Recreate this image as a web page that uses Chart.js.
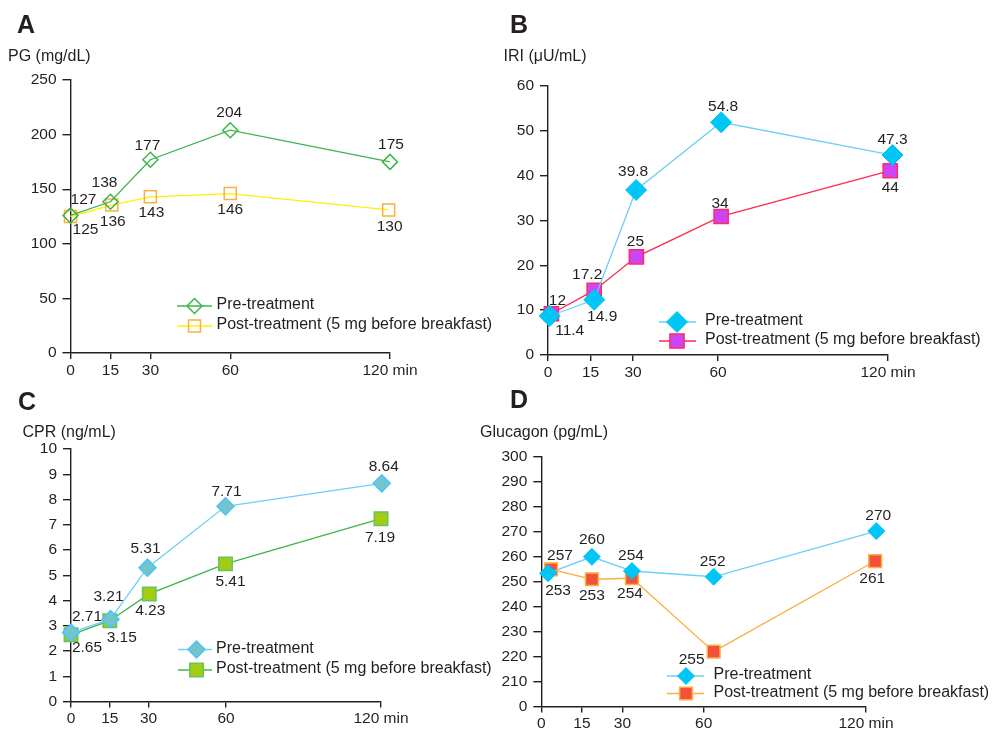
<!DOCTYPE html>
<html>
<head>
<meta charset="utf-8">
<script src="https://cdn.jsdelivr.net/npm/chart.js@4.4.1/dist/chart.umd.min.js"></script>
<style>
  body { margin: 0; background: #fff; width: 994px; height: 729px; position: relative; overflow: hidden; }
  canvas { position: absolute; }
</style>
</head>
<body>
<canvas id="pg" style="left:0;top:0" width="497" height="380"></canvas>
<canvas id="iri" style="left:497px;top:0" width="497" height="380"></canvas>
<canvas id="cpr" style="left:0;top:380px" width="497" height="349"></canvas>
<canvas id="glu" style="left:470px;top:380px" width="524" height="349"></canvas>
<script>
const FONT = "'Liberation Sans', Arial, Helvetica, sans-serif";
const INK = '#231f20';

const seriesNames = ['Pre-treatment', 'Post-treatment (5 mg before breakfast)'];
const timeTicks = [0, 15, 30, 60, 120];

// A - PG (mg/dL)
const pgPreX = [0, 15, 30, 60, 120];
const pgPre = [126, 138.5, 177, 204, 175];
const pgPostX = [0, 15.5, 30, 60, 119.5];
const pgPost = [125, 135.5, 143, 146, 131];
const pgPreText = ['127', '138', '177', '204', '175'];
const pgPostText = ['125', '136', '143', '146', '130'];

// B - IRI (uU/mL)
const iriPreX = [0.6, 16.3, 31.1, 61.1, 121.6];
const iriPre = [8.7, 12.3, 36.8, 51.9, 44.6];
const iriPostX = [1.2, 16.3, 31.2, 61.1, 120.8];
const iriPost = [9.2, 14.4, 21.9, 30.9, 41.1];
const iriPreText = ['11.4', '14.9', '39.8', '54.8', '47.3'];
const iriPostText = ['12', '17.2', '25', '34', '44'];

// C - CPR (ng/mL)
const cprPreX = [0, 15.3, 29.6, 59.8, 120.3];
const cprPre = [2.73, 3.26, 5.3, 7.73, 8.64];
const cprPostX = [0, 15, 30.3, 59.8, 120];
const cprPost = [2.64, 3.2, 4.26, 5.45, 7.24];
const cprPreText = ['2.71', '3.21', '5.31', '7.71', '8.64'];
const cprPostText = ['2.65', '3.15', '4.23', '5.41', '7.19'];

// D - Glucagon (pg/mL), axis broken below 210
const gluPreX = [2.5, 18.7, 33.5, 63.7, 123.8];
const gluPre = [253.4, 260, 254.3, 252, 270.3];
const gluPostX = [3.6, 18.7, 33.5, 63.7, 123.4];
const gluPost = [255, 251, 251.4, 222, 258.3];
const gluPreText = ['253', '260', '254', '252', '270'];
const gluPostText = ['257', '253', '254', '255', '261'];

function pts(xs, ys) {
  return xs.map((x, i) => ({ x: x, y: ys[i] }));
}

function marker(ctx, kind, x, y, r) {
  ctx.beginPath();
  if (kind === 'rectRot') {
    ctx.moveTo(x - r, y); ctx.lineTo(x, y - r); ctx.lineTo(x + r, y); ctx.lineTo(x, y + r);
  } else {
    const h = r * Math.SQRT1_2;
    ctx.rect(x - h, y - h, 2 * h, 2 * h);
  }
  ctx.closePath();
}

// panel letter, unit title, value labels and legend
const decor = {
  id: 'panelDecor',
  beforeDatasetsDraw(chart) {
    // points sitting just past the 120 min tick still have to be drawn
    const a = chart.chartArea;
    chart._realArea = a;
    chart.chartArea = Object.assign({}, a, { left: a.left - 30, right: a.right + 30, top: a.top - 30, bottom: a.bottom + 30 });
  },
  afterDatasetsDraw(chart, args, o) {
    if (chart._realArea) chart.chartArea = chart._realArea;
    const ctx = chart.ctx;
    ctx.save();
    ctx.fillStyle = INK;
    ctx.textAlign = 'left';
    ctx.textBaseline = 'alphabetic';
    ctx.font = 'bold 25px ' + FONT;
    ctx.fillText(o.letter, o.letterAt[0], o.letterAt[1]);
    ctx.font = '16px ' + FONT;
    ctx.fillText(o.title, o.titleAt[0], o.titleAt[1]);

    ctx.font = '15.5px ' + FONT;
    ctx.textAlign = 'center';
    ctx.textBaseline = 'middle';
    chart.data.datasets.forEach((ds, i) => {
      chart.getDatasetMeta(i).data.forEach((pt, j) => {
        const off = o.offsets[i][j];
        ctx.fillText(o.texts[i][j], pt.x + off[0], pt.y + off[1]);
      });
    });

    const lg = o.legend;
    chart.data.datasets.forEach((ds, i) => {
      const y = lg.y[i];
      ctx.strokeStyle = ds.borderColor;
      ctx.lineWidth = 1.5;
      ctx.beginPath();
      ctx.moveTo(lg.x0, y); ctx.lineTo(lg.x1, y);
      ctx.stroke();
      marker(ctx, ds.pointStyle, lg.mx, y, ds.pointRadius);
      ctx.fillStyle = ds.pointBackgroundColor;
      ctx.fill();
      ctx.lineWidth = ds.pointBorderWidth;
      ctx.strokeStyle = ds.pointBorderColor;
      ctx.stroke();
      ctx.fillStyle = INK;
      ctx.font = '16px ' + FONT;
      ctx.textAlign = 'left';
      ctx.textBaseline = 'middle';
      ctx.fillText(ds.label, lg.tx, y - 1);
    });
    ctx.restore();
  }
};

function makePanel(id, p) {
  const axisGrid = { display: true, drawOnChartArea: false, drawTicks: true, color: INK, lineWidth: 1.4 };
  return new Chart(document.getElementById(id), {
    type: 'line',
    data: {
      datasets: p.series.map((s, i) => ({
        label: seriesNames[i],
        data: s.data,
        borderColor: s.line,
        borderWidth: 1.3,
        tension: 0,
        fill: false,
        clip: false,
        pointStyle: s.shape,
        pointRadius: s.r,
        pointBackgroundColor: s.fill,
        pointBorderColor: s.edge,
        pointBorderWidth: s.edgeW
      }))
    },
    options: {
      responsive: false,
      animation: false,
      devicePixelRatio: 1,
      layout: { padding: p.pad },
      plugins: { legend: { display: false }, tooltip: { enabled: false }, panelDecor: p.decor },
      scales: {
        x: {
          type: 'linear', min: 0, max: 120,
          afterBuildTicks: s => { s.ticks = timeTicks.map(v => ({ value: v })); },
          afterFit: s => { s.height = p.xH; },
          grid: Object.assign({}, axisGrid, { tickLength: 6 }),
          border: { display: true, color: INK, width: 1.4 },
          ticks: {
            color: INK, padding: 2, autoSkip: false, maxRotation: 0,
            font: { family: FONT, size: 15.5 },
            callback: v => (v === 120 ? '120 min' : v)
          }
        },
        y: {
          type: 'linear', min: p.yMin, max: p.yMax,
          afterFit: s => { s.width = p.yW; },
          grid: Object.assign({}, axisGrid, { tickLength: 8 }),
          border: { display: true, color: INK, width: 1.4 },
          ticks: {
            color: INK, padding: 6, stepSize: p.yStep,
            font: { family: FONT, size: 15.5 },
            callback: p.yLabel || (v => v)
          }
        }
      }
    },
    plugins: [decor]
  });
}

makePanel('pg', {
  pad: { left: 0, top: 80, right: 107, bottom: 0 }, yW: 70.5, xH: 27,
  yMin: 0, yMax: 250, yStep: 50,
  series: [
    { data: pts(pgPreX, pgPre), line: '#3cb54a', shape: 'rectRot', r: 7.5, fill: 'rgba(255,255,255,0)', edge: '#3cb54a', edgeW: 1.5 },
    { data: pts(pgPostX, pgPost), line: '#fff200', shape: 'rect', r: 8.5, fill: 'rgba(255,255,255,0)', edge: '#fbb040', edgeW: 1.5 }
  ],
  decor: {
    letter: 'A', letterAt: [17, 33], title: 'PG (mg/dL)', titleAt: [8, 61],
    texts: [pgPreText, pgPostText],
    offsets: [
      [[13, -16], [-6, -19], [-3, -14], [-1, -18], [1, -17]],
      [[15, 13], [1, 17], [1, 16], [0, 16], [1, 17]]
    ],
    legend: { x0: 177, x1: 212, mx: 194.5, tx: 216.5, y: [306, 326] }
  }
});

makePanel('iri', {
  pad: { left: 0, top: 86, right: 106, bottom: 0 }, yW: 51, xH: 25,
  yMin: 0, yMax: 60, yStep: 10,
  series: [
    { data: pts(iriPreX, iriPre), line: '#6dcff6', shape: 'rectRot', r: 10.5, fill: '#00c6f5', edge: '#00c6f5', edgeW: 1 },
    { data: pts(iriPostX, iriPost), line: '#ff2a4f', shape: 'rect', r: 10, fill: '#cc44f5', edge: '#ff2a60', edgeW: 1.5 }
  ],
  decor: {
    letter: 'B', letterAt: [13, 33], title: 'IRI (\u03bcU/mL)', titleAt: [6.5, 61],
    texts: [iriPreText, iriPostText],
    offsets: [
      [[20, 15], [8, 17], [-3, -18], [2, -16], [0, -15]],
      [[6, -13], [-7, -16], [-1, -15], [-1, -13], [0, 17]]
    ],
    legend: { x0: 162, x1: 199, mx: 180, tx: 208, y: [322, 341] }
  }
});

makePanel('cpr', {
  pad: { left: 0, top: 69, right: 116, bottom: 0 }, yW: 71, xH: 27.5,
  yMin: 0, yMax: 10, yStep: 1,
  series: [
    { data: pts(cprPreX, cprPre), line: '#6dcff6', shape: 'rectRot', r: 8.5, fill: '#72c5cc', edge: '#4fc3f7', edgeW: 1.5 },
    { data: pts(cprPostX, cprPost), line: '#3cb54a', shape: 'rect', r: 9.5, fill: '#a4cc12', edge: '#62c462', edgeW: 1.5 }
  ],
  decor: {
    letter: 'C', letterAt: [18, 30], title: 'CPR (ng/mL)', titleAt: [22.5, 57],
    texts: [cprPreText, cprPostText],
    offsets: [
      [[16, -16], [-2, -22], [-2, -19], [1, -15], [2, -17]],
      [[16, 13], [12, 17], [1, 17], [5, 18], [-1, 19]]
    ],
    legend: { x0: 178, x1: 212, mx: 196.5, tx: 216, y: [269.5, 290] }
  }
});

makePanel('glu', {
  pad: { left: 0, top: 77, right: 128, bottom: 0 }, yW: 71.3, xH: 22.5,
  yMin: 200, yMax: 300, yStep: 10,
  yLabel: v => (v === 200 ? '0' : v),
  series: [
    { data: pts(gluPreX, gluPre), line: '#6dcff6', shape: 'rectRot', r: 8.5, fill: '#00c6f5', edge: '#00c6f5', edgeW: 1 },
    { data: pts(gluPostX, gluPost), line: '#fbb040', shape: 'rect', r: 9, fill: '#f2503a', edge: '#fbb040', edgeW: 1.5 }
  ],
  decor: {
    letter: 'D', letterAt: [40, 28], title: 'Glucagon (pg/mL)', titleAt: [10, 57],
    texts: [gluPreText, gluPostText],
    offsets: [
      [[10, 17], [0, -17], [-1, -15], [-1, -15], [2, -15]],
      [[9, -14], [0, 16], [-2, 15], [-22, 8], [-3, 18]]
    ],
    legend: { x0: 197, x1: 234, mx: 216, tx: 243.5, y: [296, 313.5] }
  }
});
</script>
</body>
</html>
